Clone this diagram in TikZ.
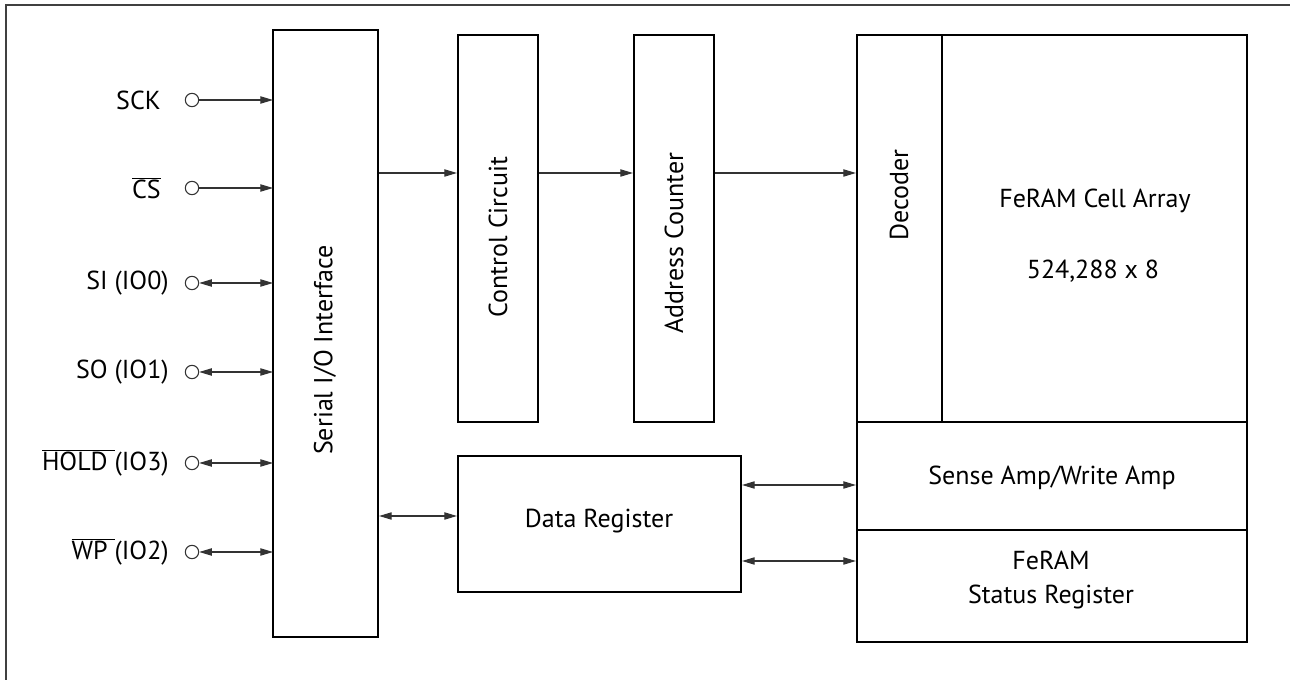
\documentclass[tikz,border=0pt]{standalone}
\usepackage{fontspec}
\setmainfont{PT Sans}
\usetikzlibrary{arrows.meta}
\begin{document}
\begin{tikzpicture}[x=0.75pt,y=-0.75pt,
  blk/.style={draw=black,line width=1.6pt,inner sep=0pt,minimum width=#1},
  lbl/.style={font=\fontsize{19.5}{25}\selectfont,text=black,inner sep=0pt},
  pin/.style={draw=black!80,line width=0.8pt,fill=white,circle,minimum size=10pt,inner sep=0pt},
  sig/.style={draw=black!80,line width=0.8pt,-{Triangle[length=9.5pt,width=5.5pt]}},
  bsig/.style={draw=black!80,line width=0.8pt,{Triangle[length=9.5pt,width=5.5pt]}-{Triangle[length=9.5pt,width=5.5pt]}}]
\useasboundingbox (0,0) rectangle (1290,680);
\clip (0,0) rectangle (1290,680);
\draw[black!75,line width=1.3pt] (6,5) rectangle (1310,700);

% blocks (sizes in pt = px*0.75)
\node[blk=78.75pt,minimum height=455.25pt] (ser) at (325.5,333.5) {};
\node[blk=60pt,minimum height=290.25pt] (ctl) at (498,228.5) {};
\node[blk=60pt,minimum height=290.25pt] (adr) at (674,228.5) {};
\node[blk=63.75pt,minimum height=290.25pt] (dec) at (899.5,228.5) {};
\node[blk=228.75pt,minimum height=290.25pt] (arr) at (1094.5,228.5) {};
\node[blk=292.5pt,minimum height=81pt] (sa) at (1052,476) {};
\node[blk=292.5pt,minimum height=84pt] (st) at (1052,586) {};
\node[blk=212.25pt,minimum height=102pt] (dr) at (599.5,524) {};

% labels
\node[lbl,rotate=90] (tser) at (325,350) {Serial I/O Interface};
\node[lbl,rotate=90] (tctl) at (498,237) {Control Circuit};
\node[lbl,rotate=90] (tadr) at (674,243) {Address Counter};
\node[lbl,rotate=90] (tdec) at (899,195) {Decoder};
\node[lbl] (tarr) at (1095,201) {FeRAM Cell Array};
\node[lbl] (tsz) at (1093,271) {524,288 x 8};
\node[lbl] (tsa) at (1052,478) {Sense Amp/Write Amp};
\node[lbl,align=center] (tst) at (1051,580) {FeRAM\\Status Register};
\node[lbl] (tdr) at (599,521) {Data Register};

% pins
\foreach \n/\y in {sck/100,cs/188,si/283,so/372,hold/463,wp/552}{
  \node[pin] (p\n) at (192,\y) {};
  \coordinate (e\n) at (273,\y);
}
\node[lbl,anchor=east] (lsck) at (161,100) {SCK};
\node[lbl,anchor=east] (lcs) at (161,188) {$\overline{\mbox{CS}}$};
\node[lbl,anchor=east] (lsi) at (169,283) {SI (IO0)};
\node[lbl,anchor=east] (lso) at (169,372) {SO (IO1)};
\node[lbl,anchor=east] (lhold) at (169,463) {$\overline{\mbox{HOLD\ }}$(IO3)};
\node[lbl,anchor=east] (lwp) at (169,552) {$\overline{\mbox{WP\ }}$(IO2)};

\draw[sig] (psck) -- (esck);
\draw[sig] (pcs) -- (ecs);
\draw[bsig] (psi) -- (esi);
\draw[bsig] (pso) -- (eso);
\draw[bsig] (phold) -- (ehold);
\draw[bsig] (pwp) -- (ewp);

% internal connectors
\coordinate (h1) at (0,173);
\coordinate (h2) at (0,516);
\coordinate (h3) at (0,485);
\coordinate (h4) at (0,561);
\draw[sig] (ser.east |- h1) -- (ctl.west |- h1);
\draw[sig] (ctl.east |- h1) -- (adr.west |- h1);
\draw[sig] (adr.east |- h1) -- (dec.west |- h1);
\draw[bsig] (ser.east |- h2) -- (dr.west |- h2);
\draw[bsig] (dr.east |- h3) -- (sa.west |- h3);
\draw[bsig] (dr.east |- h4) -- (st.west |- h4);
\end{tikzpicture}
\end{document}
